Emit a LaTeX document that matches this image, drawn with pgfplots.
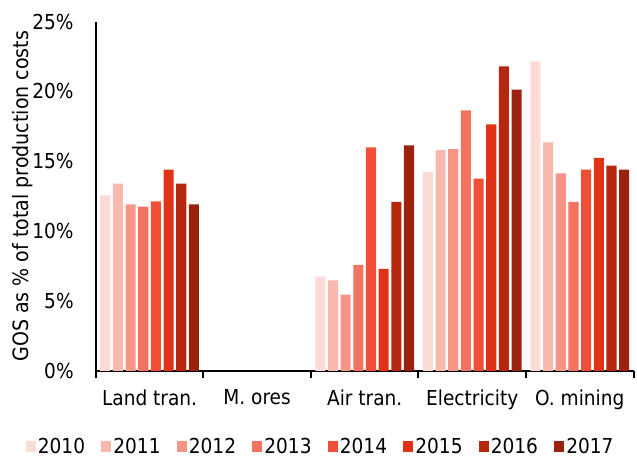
\documentclass[border=0pt]{standalone}
\usepackage{pgfplots}
\pgfplotsset{compat=1.18}
\usepackage{fontspec}
\setmainfont{DejaVu Sans Condensed}
\definecolor{c10}{HTML}{FCDAD5}
\definecolor{c11}{HTML}{F9B8AE}
\definecolor{c12}{HTML}{F69585}
\definecolor{c13}{HTML}{F37360}
\definecolor{c14}{HTML}{F04E37}
\definecolor{c15}{HTML}{E03214}
\definecolor{c16}{HTML}{B5270E}
\definecolor{c17}{HTML}{9A220E}
\begin{document}
\begin{tikzpicture}
\begin{axis}[
    scale only axis,
    width=522pt, height=339pt,
    ybar=2.5pt, bar width=9.8pt,
    xmin=-0.5, xmax=4.5,
    ymin=0, ymax=25,
    axis x line*=bottom, axis y line*=left,
    axis line style={line width=2pt},
    xtick={-0.5,0.5,1.5,2.5,3.5,4.5},
    xticklabels={},
    x tick style={draw=black, line width=2pt},
    major tick length=7pt,
    xtick align=outside,
    extra x ticks={0,1,2,3,4},
    extra x tick labels={Land tran., M. ores, Air tran., Electricity, O. mining},
    extra x tick style={major tick length=0pt, tick style={draw=none},
        tick label style={yshift=-15pt}},
    ytick={0,5,...,25},
    yticklabel={\pgfmathprintnumber{\tick}\%},
    y tick style={draw=none},
    yticklabel style={xshift=-18pt},
    /pgf/number format/assume math mode=true,
    tick label style={font=\fontsize{20}{22}\selectfont},
    ylabel={GOS as \% of total production costs},
    ylabel style={font=\fontsize{20.5}{22}\selectfont, yshift=-7pt},
    legend columns=8,
    legend style={at={(0.418,-0.18)}, anchor=north, draw=none, font=\fontsize{20}{22}\selectfont,
        /tikz/every even column/.append style={column sep=13.5pt}},
    legend image code/.code={\fill[#1] (0pt,-5pt) rectangle (10pt,5pt);},
    every axis plot/.append style={draw=none},
    extra description/.code={\path (rel axis cs:0,1) ++(0,21pt); \path (rel axis cs:0,0.5) ++(-93pt,0);},
]
\addplot[fill=c10] coordinates {(0,12.57) (2,6.75) (3,14.22) (4,22.15)};
\addplot[fill=c11] coordinates {(0,13.4) (2,6.47) (3,15.8) (4,16.35)};
\addplot[fill=c12] coordinates {(0,11.92) (2,5.46) (3,15.88) (4,14.13)};
\addplot[fill=c13] coordinates {(0,11.75) (2,7.59) (3,18.65) (4,12.1)};
\addplot[fill=c14] coordinates {(0,12.14) (2,16.0) (3,13.77) (4,14.41)};
\addplot[fill=c15] coordinates {(0,14.4) (2,7.3) (3,17.65) (4,15.25)};
\addplot[fill=c16] coordinates {(0,13.4) (2,12.1) (3,21.8) (4,14.7)};
\addplot[fill=c17] coordinates {(0,11.92) (2,16.14) (3,20.14) (4,14.41)};
\legend{2010,2011,2012,2013,2014,2015,2016,2017}
\end{axis}
\end{tikzpicture}
\end{document}
